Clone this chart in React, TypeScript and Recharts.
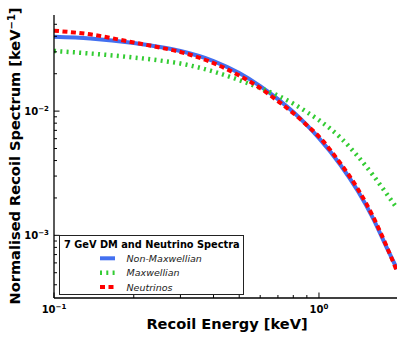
import React from 'react';
import { LineChart, Line, XAxis, YAxis, Legend } from 'recharts';

const energies = [0.1, 0.137, 0.2, 0.251, 0.3, 0.4, 0.5, 0.6, 0.7, 0.8, 0.9, 1.0, 1.2, 1.4, 1.6, 1.8, 1.97];
const nonMaxwellian = [0.0397, 0.03844, 0.03534, 0.03282, 0.03048, 0.0253, 0.02025, 0.01591, 0.0125, 0.00982, 0.00771, 0.00606, 0.003737, 0.002285, 0.001371, 0.0008003, 0.0005368];
const maxwellian = [0.0305, 0.02909, 0.02701, 0.02554, 0.02416, 0.02082, 0.01778, 0.01533, 0.01334, 0.01149, 0.00982, 0.00846, 0.00617, 0.00434, 0.003048, 0.002162, 0.001651];
const neutrinos = [0.0444, 0.0415, 0.03567, 0.03252, 0.02991, 0.02438, 0.01933, 0.01533, 0.01204, 0.00963, 0.00771, 0.00623, 0.003843, 0.002371, 0.001415, 0.000815, 0.0005125];

const xTicks = [0.1, 0.2, 0.3, 0.4, 0.5, 0.6, 0.7, 0.8, 0.9, 1.0];
const yTicks = [0.0004, 0.0005, 0.0006, 0.0007, 0.0008, 0.0009, 0.001, 0.002, 0.003, 0.004, 0.005, 0.006, 0.007, 0.008, 0.009, 0.01, 0.02, 0.03, 0.04, 0.05];
const xDomain = [0.1, 1.97];
const yDomain = [0.000313, 0.0594];

const legendTitle = '7 GeV DM and Neutrino Spectra';
const series = [
  { key: 'nonMax', name: 'Non-Maxwellian', color: '#4370f0', dash: undefined as string | undefined, width: 4 },
  { key: 'max', name: 'Maxwellian', color: '#33cc33', dash: '2 4.3', width: 4.5 },
  { key: 'nu', name: 'Neutrinos', color: '#ff0000', dash: '5 3.5', width: 4 },
];

const data = energies.map((e, i) => ({ e, nonMax: nonMaxwellian[i], max: maxwellian[i], nu: neutrinos[i] }));

const FONT = 'DejaVu Sans';
const isMajor = (v: number) => Math.abs(Math.log10(v) - Math.round(Math.log10(v))) < 1e-6;
const fmtExp = (v: number) => {
  const e = Math.round(Math.log10(v));
  return e < 0 ? '\u2212' + Math.abs(e) : String(e);
};

const BottomTick = (props: any) => {
  const { x, y, payload } = props;
  const major = isMajor(payload.value);
  return (
    <g>
      <line x1={x} y1={y} x2={x} y2={y - (major ? 5.5 : 3)} stroke="#000" strokeWidth={1} />
      {major && (
        <text x={x} y={y + 15} textAnchor="middle" fontFamily={FONT} fontWeight="bold" fontSize={10} fill="#000">
          <tspan>10</tspan>
          <tspan dy={-4} fontSize={7}>{fmtExp(payload.value)}</tspan>
        </text>
      )}
    </g>
  );
};

const TopTick = (props: any) => {
  const { x, y, payload } = props;
  const major = isMajor(payload.value);
  return <line x1={x} y1={y} x2={x} y2={y + (major ? 5.5 : 3)} stroke="#000" strokeWidth={1} />;
};

const LeftTick = (props: any) => {
  const { x, y, payload } = props;
  const major = isMajor(payload.value);
  return (
    <g>
      <line x1={x} y1={y} x2={x + (major ? 5.5 : 3)} y2={y} stroke="#000" strokeWidth={1} />
      {major && (
        <text x={x - 5} y={y + 4} textAnchor="end" fontFamily={FONT} fontWeight="bold" fontSize={10} fill="#000">
          <tspan>10</tspan>
          <tspan dy={-4} fontSize={7}>{fmtExp(payload.value)}</tspan>
        </text>
      )}
    </g>
  );
};

const RightTick = (props: any) => {
  const { x, y, payload } = props;
  const major = isMajor(payload.value);
  return <line x1={x} y1={y} x2={x - (major ? 5.5 : 3)} y2={y} stroke="#000" strokeWidth={1} />;
};

const LegendBox = () => (
  <svg width={185} height={60} style={{ display: 'block' }}>
    <rect x={0.5} y={0.5} width={184} height={59} fill="#fff" stroke="#222" strokeWidth={1} />
    <text x={5} y={12.5} fontFamily={FONT} fontWeight="bold" fontSize={9.8} fill="#000">{legendTitle}</text>
    {series.map((s, i) => (
      <g key={s.key}>
        <line x1={41} x2={56} y1={23.3 + i * 14.4} y2={23.3 + i * 14.4} stroke={s.color} strokeWidth={s.width} strokeDasharray={s.dash} />
        <text x={67.5} y={26.7 + i * 14.4} fontFamily={FONT} fontStyle="italic" fontSize={9.5} fill="#222">{s.name}</text>
      </g>
    ))}
  </svg>
);

export default function App() {
  return (
    <div style={{ position: 'absolute', left: 0, top: 0, width: 405, height: 339, background: '#fff' }}>
      <LineChart width={405} height={339} data={data} margin={{ top: 15, right: 8, bottom: 0, left: 0 }}>
        <XAxis xAxisId="bottom" dataKey="e" type="number" scale="log" domain={xDomain} allowDataOverflow ticks={xTicks} interval={0}
          tick={<BottomTick />} tickSize={0} tickMargin={0} tickLine={false} height={41} axisLine={{ stroke: '#000', strokeWidth: 1.3 }} />
        <XAxis xAxisId="top" orientation="top" dataKey="e" type="number" scale="log" domain={xDomain} allowDataOverflow ticks={xTicks} interval={0}
          tick={<TopTick />} tickSize={0} tickMargin={0} tickLine={false} height={0} axisLine={{ stroke: '#000', strokeWidth: 1.3 }} />
        <YAxis yAxisId="left" type="number" scale="log" domain={yDomain} allowDataOverflow ticks={yTicks} interval={0}
          tick={<LeftTick />} tickSize={0} tickMargin={0} tickLine={false} width={54} axisLine={{ stroke: '#000', strokeWidth: 1.3 }} />
        <YAxis yAxisId="right" orientation="right" type="number" scale="log" domain={yDomain} allowDataOverflow ticks={yTicks} interval={0}
          tick={<RightTick />} tickSize={0} tickMargin={0} tickLine={false} width={0} axisLine={{ stroke: '#000', strokeWidth: 1.3 }} />
        {series.map((s) => (
          <Line key={s.key} xAxisId="bottom" yAxisId="left" dataKey={s.key} name={s.name} type="monotone" stroke={s.color}
            strokeWidth={s.width} strokeDasharray={s.dash} dot={false} activeDot={false} isAnimationActive={false} />
        ))}
        <Legend layout="horizontal" verticalAlign="middle" align="center" content={<LegendBox />}
          wrapperStyle={{ left: 59, top: 235, width: 185, height: 60 }} />
        <text x={227} y={329} textAnchor="middle" fontFamily={FONT} fontWeight="bold" fontSize={14.6} fill="#000">Recoil Energy [keV]</text>
        <text transform="translate(20,156) rotate(-90)" textAnchor="middle" fontFamily={FONT} fontWeight="bold" fontSize={14.6} fill="#000">
          <tspan>Normalised Recoil Spectrum [keV</tspan>
          <tspan dy={-5} fontSize={10}>{'\u22121'}</tspan>
          <tspan dy={5}>]</tspan>
        </text>
      </LineChart>
    </div>
  );
}
